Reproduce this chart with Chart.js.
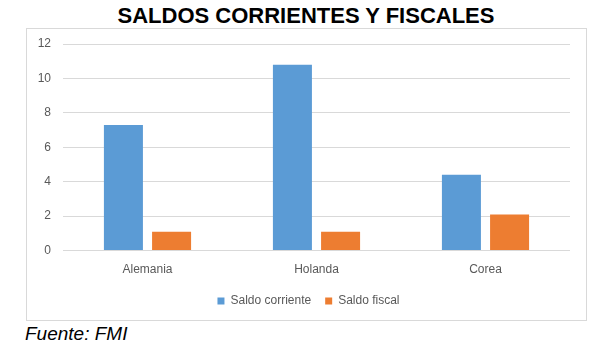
<!DOCTYPE html>
<html>
<head>
<meta charset="utf-8">
<script src="https://cdn.jsdelivr.net/npm/chart.js@4"></script>
<style>
  body { margin: 0; background: #fff; width: 592px; height: 345px; overflow: hidden; position: relative; font-family: "Liberation Sans", Arial, sans-serif; }
  #title { position: absolute; left: 0; width: 612px; top: 3px; text-align: center; font-weight: bold; font-size: 22px; color: #000; }
  #box { position: absolute; left: 26px; top: 28px; width: 559px; height: 291px; border: 1px solid #d9d9d9; }
  #source { position: absolute; left: 25px; top: 323px; font-style: italic; font-size: 19px; color: #000; }
</style>
</head>
<body>
<div id="title">SALDOS CORRIENTES Y FISCALES</div>
<div id="box"><canvas id="chart" width="559" height="291"></canvas></div>
<div id="source">Fuente: FMI</div>
<script>
// data
var countries = ["Alemania", "Holanda", "Corea"];
var saldo_corriente = [7.3, 10.8, 4.4];
var saldo_fiscal = [1.1, 1.1, 2.1];
var seriesNames = ["Saldo corriente", "Saldo fiscal"];

// the original legend sits a little right of centre
var nudgeLegend = {
  id: "nudgeLegend",
  afterLayout: function (chart) {
    chart.legend.left += 10;
    chart.legend.right += 10;
  }
};

var chart = new Chart("chart", {
  type: "bar",
  data: {
    labels: countries,
    datasets: [{
      label: seriesNames[0],
      backgroundColor: "#5B9BD5",
      data: saldo_corriente
    }, {
      label: seriesNames[1],
      backgroundColor: "#ED7D31",
      data: saldo_fiscal
    }]
  },
  options: {
    responsive: false,
    animation: false,
    categoryPercentage: 0.57,
    barPercentage: 0.81,
    layout: {padding: {top: 15, right: 16, left: 0, bottom: 3}},
    plugins: {
      legend: {
        position: "bottom",
        labels: {boxWidth: 7, boxHeight: 7, color: "#595959", font: {family: "Liberation Sans", size: 12}, padding: 14}
      },
      title: {display: false},
      tooltip: {enabled: false}
    },
    scales: {
      x: {
        grid: {display: false},
        border: {display: false},
        ticks: {color: "#595959", font: {family: "Liberation Sans", size: 12}, padding: 4}
      },
      y: {
        min: 0, max: 12,
        ticks: {stepSize: 2, color: "#595959", font: {family: "Liberation Sans", size: 12}, padding: 12},
        grid: {color: "#d9d9d9", drawTicks: false},
        border: {display: false},
        afterFit: function (s) {
          s.width = 36;
          // tick padding should not push the plot down
          s.paddingTop = 0;
          s.paddingBottom = 0;
        }
      }
    }
  },
  plugins: [nudgeLegend]
});
</script>
</body>
</html>
